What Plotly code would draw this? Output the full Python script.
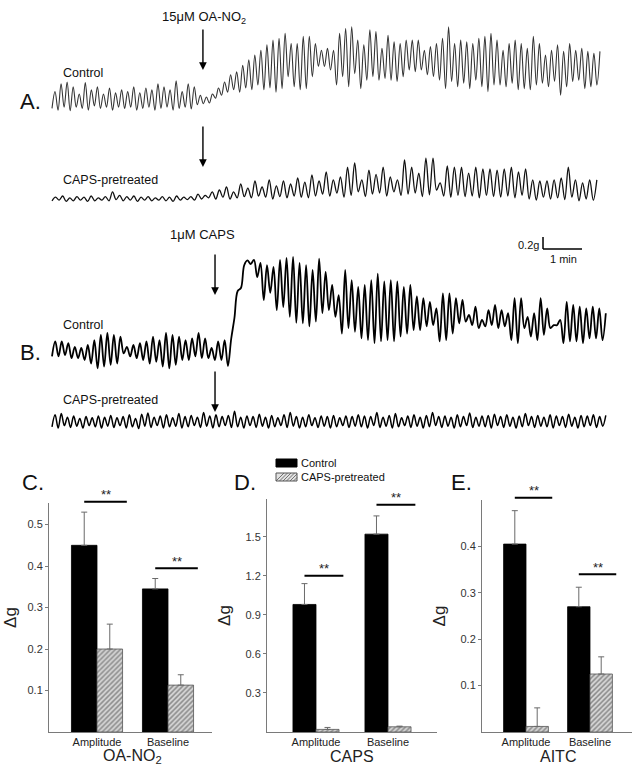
import numpy as np
import plotly.graph_objects as go

W, H = 638, 772
FONT = "Arial, Liberation Sans, sans-serif"

# ---------------- trace data (g, alternating trough/peak, equal time steps) ----------------
a_ctrl_minutes = 14.05
a_ctrl_g = [
    -0.14, 0.14, -0.17, 0.27, -0.12, 0.30, -0.18, 0.22, -0.12, 0.10, -0.14, 0.29,
    -0.17, 0.17, -0.10, 0.22, -0.14, 0.10, -0.12, 0.20, -0.17, 0.12, -0.12, 0.17,
    -0.14, 0.14, -0.12, 0.22, -0.17, 0.12, -0.14, 0.20, -0.12, 0.17, -0.17, 0.27,
    -0.14, 0.22, -0.12, 0.17, -0.17, 0.32, -0.14, 0.14, -0.12, 0.27, -0.15, 0.22,
    -0.08, 0.08, -0.06, 0.05, -0.05, 0.10,
    0.03, 0.20, 0.08, 0.30, 0.13, 0.42, 0.17, 0.47, 0.13, 0.58, 0.20, 0.67,
    0.17, 0.75, 0.25, 0.83, 0.17, 0.92, 0.20, 1.00, 0.13, 1.03,
    0.19, 1.11, 0.39, 0.94, 0.22, 0.94, 0.17, 1.06, 0.19, 1.06, 0.39, 0.94,
    0.56, 0.83, 0.56, 0.86, 0.50, 0.83, 0.25, 1.11, 0.39, 1.19, 0.22, 1.22,
    0.44, 1.00, 0.19, 0.92, 0.33, 1.17, 0.39, 1.14, 0.33, 0.86, 0.36, 1.08,
    0.33, 0.97, 0.31, 0.94, 0.39, 1.00, 0.50, 1.00, 0.47, 1.00, 0.50, 0.83,
    0.42, 0.89, 0.39, 0.94, 0.33, 1.03, 0.19, 1.22, 0.31, 0.94, 0.22, 1.00,
    0.28, 0.97, 0.19, 0.94, 0.33, 1.03, 0.22, 1.06, 0.14, 1.11, 0.25, 1.00,
    0.25, 0.83, 0.22, 0.94, 0.28, 1.00, 0.17, 0.94, 0.19, 0.86, 0.17, 1.06,
    0.25, 0.94, 0.28, 0.75, 0.22, 0.83, 0.31, 0.92, 0.08, 0.81, 0.22, 0.94,
    0.31, 0.83, 0.33, 0.86, 0.19, 0.81, 0.22, 0.78, 0.25, 0.81,
]

a_caps_minutes = 13.97
a_caps_g = [
    -0.03, 0.03, -0.02, 0.05, -0.04, 0.02, -0.03, 0.04, -0.02, 0.03, -0.04, 0.05,
    -0.03, 0.02, -0.02, 0.04, -0.03, 0.12, -0.01, 0.06, -0.03, 0.04, -0.02, 0.05,
    -0.04, 0.03, -0.02, 0.04, -0.03, 0.02, -0.02, 0.04, -0.03, 0.03, -0.04, 0.05,
    -0.02, 0.03, -0.01, 0.04, -0.02, 0.08, 0.00, 0.06,
    0.02, 0.12, 0.00, 0.15, 0.03, 0.20, 0.00, 0.12, 0.02, 0.25, 0.04, 0.18,
    0.02, 0.30, 0.05, 0.20, 0.03, 0.32, 0.00, 0.22, 0.04, 0.30, 0.02, 0.25,
    0.05, 0.35, 0.03, 0.28, 0.02, 0.40, 0.05, 0.30,
    0.08, 0.45, 0.05, 0.32, 0.10, 0.37, 0.03, 0.53, 0.06, 0.60, 0.12, 0.32,
    0.04, 0.48, 0.08, 0.41, 0.10, 0.53, 0.05, 0.37, 0.12, 0.32, 0.06, 0.65,
    0.08, 0.53, 0.10, 0.43, 0.04, 0.68, 0.07, 0.68, 0.15, 0.27, 0.05, 0.55,
    0.03, 0.53, 0.06, 0.53, 0.04, 0.43, 0.05, 0.53, 0.02, 0.50, 0.06, 0.50,
    0.04, 0.48, 0.03, 0.50, 0.05, 0.53, 0.02, 0.45, 0.06, 0.50, 0.00, 0.32,
    -0.02, 0.30, 0.03, 0.30, 0.00, 0.32, 0.02, 0.35, -0.01, 0.53, 0.03, 0.32,
    -0.03, 0.27, 0.00, 0.32, -0.02, 0.32,
]

b_ctrl_minutes = 14.2
b_ctrl_g = [
    -0.14, 0.11, -0.14, 0.11, -0.12, 0.08, -0.17, 0.02, -0.17, 0.00,
    -0.20, 0.05, -0.26, 0.13, -0.34, 0.22, -0.31, 0.25, -0.28, 0.22, -0.26, 0.19,
    -0.09, 0.02, -0.14, 0.05, -0.17, 0.08, -0.20, 0.11, -0.26, 0.19, -0.23, 0.13,
    -0.31, 0.25, -0.34, 0.22, -0.28, 0.19, -0.20, 0.13, -0.20, 0.16, -0.14, 0.25,
    -0.17, 0.16, -0.17, 0.00, -0.20, 0.11, -0.20, 0.13, -0.30,
    0.15, 0.50, 0.95, 1.00, 1.38, 1.46, 1.40, 1.47,
    1.18, 1.42, 0.80, 1.38, 0.92, 1.35, 0.63, 1.47, 0.68, 1.50, 0.52, 1.52, 0.42, 1.42,
    0.41, 1.38, 0.36, 1.30, 0.44, 1.49, 0.58, 1.27, 0.63, 1.05, 0.52, 0.88,
    0.24, 1.30, 0.33, 1.13, 0.27, 1.02, 0.16, 1.05, 0.13, 1.13, 0.08, 1.24,
    0.11, 1.11, 0.13, 1.13, 0.11, 1.11, 0.19, 1.02, 0.24, 1.05, 0.30, 0.86,
    0.30, 0.83, 0.36, 0.77, 0.38, 0.66, 0.11, 0.91, 0.13, 0.91, 0.24, 0.83,
    0.41, 0.80, 0.44, 0.55, 0.38, 0.69, 0.33, 0.47, 0.36, 0.63, 0.38, 0.72,
    0.33, 0.63, 0.36, 0.58, 0.13, 0.83, 0.08, 0.83, 0.33, 0.52, 0.19, 0.58,
    0.13, 0.83, 0.22, 0.66, 0.33, 0.38, 0.38, 0.47, 0.08, 0.77, 0.11, 0.72,
    0.11, 0.69, 0.08, 0.66, 0.16, 0.69, 0.16, 0.66, 0.13, 0.58,
]

b_caps_minutes = 14.2
b_caps_g = [
    -0.08, 0.12, -0.10, 0.14, -0.06, 0.08, -0.09, 0.10, -0.07, 0.06, -0.10, 0.09, -0.06, 0.07, -0.08, 0.10, -0.10, 0.08, -0.07, 0.11,
    -0.09, 0.07, -0.06, 0.09, -0.10, 0.12, -0.08, 0.06, -0.11, 0.13, -0.07, 0.15, -0.09, 0.08, -0.06, 0.10, -0.10, 0.12, -0.08, 0.07,
    -0.07, 0.14, -0.10, 0.09, -0.08, 0.11, -0.06, 0.08, -0.09, 0.16, -0.07, 0.10, -0.10, 0.12, -0.08, 0.09, -0.06, 0.11, -0.09, 0.18,
    -0.08, 0.08, -0.10, 0.10, -0.06, 0.09, -0.09, 0.13, -0.07, 0.08, -0.10, 0.11, -0.08, 0.07, -0.06, 0.12, -0.09, 0.16, -0.07, 0.09,
    -0.10, 0.08, -0.08, 0.12, -0.06, 0.07, -0.09, 0.10, -0.07, 0.09, -0.10, 0.11, -0.08, 0.07, -0.06, 0.10, -0.09, 0.09, -0.07, 0.12,
    -0.08, 0.10, -0.10, 0.09, -0.06, 0.16, -0.09, 0.08, -0.07, 0.11, -0.10, 0.14, -0.08, 0.07, -0.06, 0.10, -0.09, 0.12, -0.07, 0.08,
    -0.10, 0.11, -0.08, 0.16, -0.06, 0.09, -0.09, 0.10, -0.07, 0.08, -0.10, 0.12, -0.08, 0.09, -0.06, 0.15, -0.09, 0.08, -0.07, 0.10,
    -0.08, 0.11, -0.10, 0.13, -0.06, 0.09, -0.09, 0.12, -0.07, 0.08, -0.10, 0.10, -0.08, 0.14, -0.06, 0.09, -0.09, 0.11, -0.07, 0.08,
    -0.08, 0.12, -0.10, 0.10, -0.06, 0.09, -0.09, 0.13, -0.07, 0.08, -0.10, 0.11, -0.08, 0.10, -0.06, 0.12, -0.09, 0.09, -0.07, 0.11,
]

drug_time_a = 3.87   # min
drug_time_b = 4.18   # min

# ---------------- bar data ----------------
bar_categories = ["Amplitude", "Baseline"]
c_control = [0.45, 0.345]
c_control_se = [0.08, 0.025]
c_caps = [0.20, 0.113]
c_caps_se = [0.06, 0.025]

d_control = [0.98, 1.52]
d_control_se = [0.16, 0.14]
d_caps = [0.02, 0.04]
d_caps_se = [0.015, 0.005]

e_control = [0.405, 0.27]
e_control_se = [0.072, 0.042]
e_caps = [0.012, 0.125]
e_caps_se = [0.04, 0.037]

c_ticks = [0.1, 0.2, 0.3, 0.4, 0.5]
d_ticks = [0.3, 0.6, 0.9, 1.2, 1.5]
e_ticks = [0.1, 0.2, 0.3, 0.4]

# significance bar heights (Δg)
c_sig = [0.555, 0.395]
d_sig = [1.20, 1.745]
e_sig = [0.505, 0.34]

# ---------------- layout helpers ----------------
PX_PER_G = 60.0
PX_PER_MIN = 39.0
T0_PX = 52.0
BASE_PX = 732.0


def px(y):
    return 1 - y / H


def ydom(top, bottom):
    return [1 - bottom / H, 1 - top / H]


def yrng(zero, top, bottom):
    return [(zero - bottom) / PX_PER_G, (zero - top) / PX_PER_G]


fig = go.Figure()

trace_specs = [
    (a_ctrl_g, a_ctrl_minutes, "y", "#333333", 1.1),
    (a_caps_g, a_caps_minutes, "y2", "#111111", 1.3),
    (b_ctrl_g, b_ctrl_minutes, "y3", "#000000", 1.8),
    (b_caps_g, b_caps_minutes, "y4", "#000000", 1.5),
]
for vals, dur, ya, col, lw in trace_specs:
    t = np.linspace(0, dur, len(vals))
    fig.add_trace(go.Scatter(x=t, y=vals, xaxis="x", yaxis=ya, mode="lines",
                             line=dict(color=col, width=lw, shape="spline", smoothing=1.0),
                             showlegend=False, hoverinfo="skip"))

x_rng = [-T0_PX / PX_PER_MIN, (W - T0_PX) / PX_PER_MIN]
hidden = dict(visible=False, showgrid=False, zeroline=False, fixedrange=True)
fig.update_layout(
    xaxis=dict(domain=[0, 1], range=x_rng, anchor="y", **hidden),
    yaxis=dict(domain=ydom(15, 125), range=yrng(100, 15, 125), anchor="x", **hidden),
    yaxis2=dict(domain=ydom(130, 215), range=yrng(199, 130, 215), anchor="x", **hidden),
    yaxis3=dict(domain=ydom(225, 385), range=yrng(348, 225, 385), anchor="x", **hidden),
    yaxis4=dict(domain=ydom(395, 450), range=yrng(422, 395, 450), anchor="x", **hidden),
)

shapes = []
ann = []

# ---------------- bar charts ----------------
panels = [
    # control, se, caps, se, axis idx, x px span, group centre px, group spacing px, yrange, ticks, xtitle, bar width, axis top px, ytitle standoff, sig
    (c_control, c_control_se, c_caps, c_caps_se, 5, (49, 212), 97, 71, [0, 0.552], c_ticks, "OA-NO<sub>2</sub>", 0.36, 503, 6, c_sig),
    (d_control, d_control_se, d_caps, d_caps_se, 6, (267, 437), 316, 72, [0, 1.79], d_ticks, "CAPS", 0.32, 499, 10, d_sig),
    (e_control, e_control_se, e_caps, e_caps_se, 7, (482, 632), 526, 64, [0, 0.50], e_ticks, "AITC", 0.35, 500, 10, e_sig),
]

for ctrl, ctrl_se, caps, caps_se, k, (xl, xr), gc, gs, yr, ticks, xt, bw, ytop, stand, sig in panels:
    xpos = [0, 1]
    xa, ya = f"x{k}", f"y{k}"
    fig.add_trace(go.Bar(x=xpos, y=ctrl, xaxis=xa, yaxis=ya, width=bw, offset=-bw,
                         marker=dict(color="#000000", line=dict(color="#000000", width=0.8)),
                         error_y=dict(type="data", array=ctrl_se, arrayminus=[0, 0], symmetric=False,
                                      color="#6a6a6a", thickness=1, width=3),
                         name="Control", showlegend=False, hoverinfo="skip"))
    fig.add_trace(go.Bar(x=xpos, y=caps, xaxis=xa, yaxis=ya, width=bw, offset=0,
                         marker=dict(color="#d0d0d0", line=dict(color="#555555", width=0.8),
                                     pattern=dict(shape="/", fgcolor="#3a3a3a", bgcolor="#d8d8d8",
                                                  size=3.5, solidity=0.45)),
                         error_y=dict(type="data", array=caps_se, arrayminus=[0, 0], symmetric=False,
                                      color="#6a6a6a", thickness=1, width=3),
                         name="CAPS-pretreated", showlegend=False, hoverinfo="skip"))
    rng = [(xl - gc) / gs, (xr - gc) / gs]
    fig.layout[f"xaxis{k}"] = dict(domain=[xl / W, xr / W], range=rng, anchor=ya,
                                  tickvals=xpos, ticktext=bar_categories, ticks="", ticklen=0,
                                  showline=True, linecolor="#7a7a7a", linewidth=1,
                                  showgrid=False, zeroline=False,
                                  tickfont=dict(family=FONT, size=11, color="#222"),
                                  fixedrange=True)
    fig.layout[f"yaxis{k}"] = dict(domain=ydom(ytop, BASE_PX), range=yr, anchor=xa,
                                  tickvals=ticks, ticks="outside", ticklen=3, tickcolor="#7a7a7a",
                                  showline=True, linecolor="#7a7a7a", linewidth=1,
                                  showgrid=False, zeroline=False,
                                  tickfont=dict(family=FONT, size=11, color="#333"),
                                  title=dict(text="Δg", font=dict(family=FONT, size=17, color="#222"),
                                             standoff=stand),
                                  fixedrange=True)
    # x-axis title
    ann.append(dict(xref="paper", yref="paper", x=(gc + 0.5 * gs) / W, y=px(756), text=xt,
                    showarrow=False, xanchor="center", yanchor="middle",
                    font=dict(family=FONT, size=16, color="#222")))
    # significance bars (converted through this panel's own scale)
    ppu = (BASE_PX - ytop) / (yr[1] - yr[0])
    for gi, yv in enumerate(sig):
        ypix = BASE_PX - yv * ppu
        x0 = gc + (gi - bw / 2) * gs
        x1 = gc + (gi + bw + 0.06) * gs
        shapes.append(dict(type="line", xref="paper", yref="paper", x0=x0 / W, x1=x1 / W,
                           y0=px(ypix), y1=px(ypix), line=dict(color="#000", width=2)))
        ann.append(dict(xref="paper", yref="paper", x=(x0 + x1) / 2 / W, y=px(ypix - 7), text="**",
                        showarrow=False, xanchor="center", yanchor="middle",
                        font=dict(family=FONT, size=13, color="#222")))


# ---------------- annotations ----------------
def txt(x, y, s, size, anchor="left"):
    ann.append(dict(xref="paper", yref="paper", x=x / W, y=px(y), text=s, showarrow=False,
                    xanchor=anchor, yanchor="middle", font=dict(family=FONT, size=size, color="#111")))


txt(18, 101, "A.", 22)
txt(18, 352, "B.", 22)
txt(20, 482, "C.", 22)
txt(232, 482, "D.", 22)
txt(449, 482, "E.", 22)
txt(61, 73, "Control", 12.5)
txt(61, 180, "CAPS-pretreated", 12.5)
txt(61, 325, "Control", 12.5)
txt(61, 400, "CAPS-pretreated", 12.5)
txt(204, 18, "15μM OA-NO<sub>2</sub>", 13, anchor="center")
txt(202, 235, "1μM CAPS", 13, anchor="center")
txt(541, 245, "0.2g", 11, anchor="right")
txt(563, 259, "1 min", 11, anchor="center")

# legend (drawn by hand, as in the figure)
txt(299, 463, "Control", 11)
txt(299, 477, "CAPS-pretreated", 11)
shapes.append(dict(type="rect", xref="paper", yref="paper", x0=276 / W, x1=297 / W,
                   y0=px(467), y1=px(459), fillcolor="#000", line=dict(color="#000", width=1)))
shapes.append(dict(type="rect", xref="paper", yref="paper", x0=276 / W, x1=297 / W,
                   y0=px(481), y1=px(473), fillcolor="#e2e2e2", line=dict(color="#555", width=1)))
for i in range(6):
    xa0 = 276 + i * 3.5
    xa1 = min(xa0 + 8, 297)
    yb = 481 - (xa1 - xa0)
    shapes.append(dict(type="line", xref="paper", yref="paper", x0=xa0 / W, x1=xa1 / W,
                       y0=px(481), y1=px(yb), line=dict(color="#555", width=0.8)))

for t_drug, tops in ((drug_time_a, [(28, 70), (125, 167)]), (drug_time_b, [(253, 295), (370, 412)])):
    for ytop, ybot in tops:
        ann.append(dict(xref="x", yref="paper", x=t_drug, y=px(ybot), ax=0, ay=-(ybot - ytop),
                        axref="pixel", ayref="pixel", text="", showarrow=True, arrowhead=2,
                        arrowsize=1.1, arrowwidth=1.4, arrowcolor="#000"))

# scale bar (0.2 g, 1 min) on the B control axes
sb_t, sb_g = 12.59, 1.65
shapes.append(dict(type="line", xref="x", yref="y3", x0=sb_t, x1=sb_t, y0=sb_g, y1=sb_g + 0.2,
                   line=dict(color="#000", width=1.5)))
shapes.append(dict(type="line", xref="x", yref="y3", x0=sb_t, x1=sb_t + 1, y0=sb_g, y1=sb_g,
                   line=dict(color="#000", width=1.5)))

fig.update_layout(
    width=W, height=H, autosize=False,
    margin=dict(l=0, r=0, t=0, b=0),
    paper_bgcolor="white", plot_bgcolor="rgba(0,0,0,0)",
    barmode="overlay", showlegend=False,
    annotations=ann, shapes=shapes,
    font=dict(family=FONT),
)

fig.write_html("out.html", config={"displayModeBar": False},
               post_script="document.body.style.margin='0';document.body.style.overflow='hidden';")
